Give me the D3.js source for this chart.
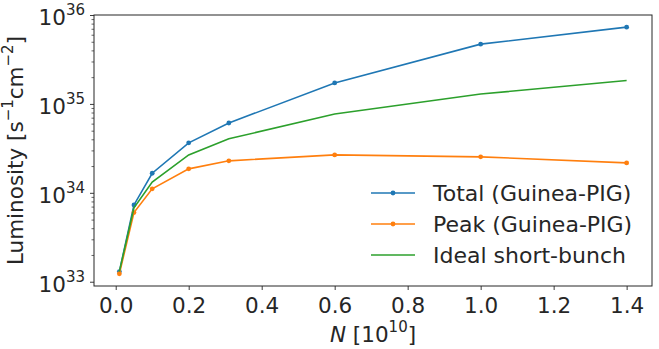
<!DOCTYPE html>
<meta charset="utf-8">
<style>
body { margin: 0; background: #fff; }
svg text { font-family: "DejaVu Sans", sans-serif; fill: #262626; }
</style>
<body>
<svg id="chart" width="659" height="349"></svg>
<script src="https://cdn.jsdelivr.net/npm/d3@7"></script>
<script>

// bunch population N [1e10]
var nValues = [0.01, 0.05, 0.1, 0.2, 0.31, 0.6, 1.0, 1.4];
var totalLumi = [1.3e33, 7.3e33, 1.66e34, 3.65e34, 6.1e34, 1.72e35, 4.7e35, 7.3e35];
var peakLumi = [1.23e33, 6.0e33, 1.11e34, 1.86e34, 2.29e34, 2.67e34, 2.54e34, 2.17e34];
var idealLumi = [1.3e33, 6.8e33, 1.32e34, 2.67e34, 4.05e34, 7.7e34, 1.29e35, 1.83e35];

var xTicks = [0.0, 0.2, 0.4, 0.6, 0.8, 1.0, 1.2, 1.4];
var yExponents = [33, 34, 35, 36];

var series = [
  {name: "Total (Guinea-PIG)", values: totalLumi, color: "#1f77b4", dots: true},
  {name: "Peak (Guinea-PIG)", values: peakLumi, color: "#ff7f0e", dots: true},
  {name: "Ideal short-bunch", values: idealLumi, color: "#2ca02c", dots: false}
];

var margin = {left: 94, right: 7, top: 15, bottom: 63};
var width = 659 - margin.left - margin.right,
    height = 349 - margin.top - margin.bottom;

var svg = d3.select("#chart");
var g = svg.append("g").attr("transform", "translate(" + margin.left + "," + margin.top + ")");

var pad = (1.4 - 0.01) * 0.05;
var x = d3.scaleLinear().domain([0.01 - pad, 1.4 + pad]).range([0, width]);
var y = d3.scaleLog().domain([Math.pow(10, 32.952), 1e36]).range([height, 0]);

var fs = 21.5, sup = 15;

// x axis
var xAxis = g.append("g").attr("transform", "translate(0," + height + ")")
  .call(d3.axisBottom(x).tickValues(xTicks).tickFormat(d3.format(".1f")).tickSizeInner(4).tickSizeOuter(0).tickPadding(7.5));
xAxis.select(".domain").remove();
xAxis.selectAll("line").attr("stroke", "#262626").attr("stroke-width", 0.9);
xAxis.selectAll("text").style("font-size", fs + "px").attr("fill", "#262626");

// y axis: major + minor ticks
var majors = yExponents.map(function(e) { return Math.pow(10, e); });
var minors = [];
yExponents.forEach(function(e) {
  for (var k = 2; k <= 9; k++) {
    var v = k * Math.pow(10, e);
    if (v <= 1e36 && v >= y.domain()[0]) minors.push(v);
  }
});
var yAxis = g.append("g")
  .call(d3.axisLeft(y).tickValues(majors).tickFormat("").tickSizeInner(4).tickSizeOuter(0));
yAxis.select(".domain").remove();
yAxis.selectAll("line").attr("stroke", "#262626").attr("stroke-width", 0.9);

var yMinor = g.append("g")
  .call(d3.axisLeft(y).tickValues(minors).tickFormat("").tickSizeInner(2.5).tickSizeOuter(0));
yMinor.select(".domain").remove();
yMinor.selectAll("line").attr("stroke", "#262626").attr("stroke-width", 0.7);

// y tick labels with superscript exponent
yExponents.forEach(function(e) {
  var t = g.append("text")
    .attr("x", -9)
    .attr("y", y(Math.pow(10, e)) + 10)
    .attr("text-anchor", "end")
    .style("font-size", fs + "px");
  t.append("tspan").text("10");
  t.append("tspan").attr("dy", -10).style("font-size", sup + "px").text(e);
});

// frame
g.append("rect").attr("width", width).attr("height", height)
  .attr("fill", "none").attr("stroke", "#262626").attr("stroke-width", 1);

// lines
var line = d3.line()
  .x(function(d, i) { return x(nValues[i]); })
  .y(function(d) { return y(d); });

series.forEach(function(s) {
  g.append("path").datum(s.values)
    .attr("fill", "none").attr("stroke", s.color).attr("stroke-width", 1.6)
    .attr("d", line);
  if (s.dots) {
    g.selectAll(null).data(s.values).enter().append("circle")
      .attr("cx", function(d, i) { return x(nValues[i]); })
      .attr("cy", function(d) { return y(d); })
      .attr("r", 2.4)
      .attr("fill", s.color);
  }
});

// legend
var legend = g.append("g").attr("transform", "translate(" + (371 - margin.left) + "," + (193 - margin.top) + ")");
series.forEach(function(s, i) {
  var row = legend.append("g").attr("transform", "translate(0," + (i * 31) + ")");
  row.append("line").attr("x1", 0).attr("x2", 44).attr("y1", 0).attr("y2", 0)
    .attr("stroke", s.color).attr("stroke-width", 1.6);
  if (s.dots) row.append("circle").attr("cx", 22).attr("cy", 0).attr("r", 2.4).attr("fill", s.color);
  row.append("text").attr("x", 62).attr("y", 8).style("font-size", "22px").text(s.name);
});

// axis labels
var xl = svg.append("text")
  .attr("x", margin.left + width / 2)
  .attr("y", 342)
  .attr("text-anchor", "middle")
  .style("font-size", fs + "px");
xl.append("tspan").style("font-style", "italic").text("N");
xl.append("tspan").text(" [10");
xl.append("tspan").attr("dy", -10).style("font-size", sup + "px").text("10");
xl.append("tspan").attr("dy", 10).text("]");

var yl = svg.append("text")
  .attr("transform", "translate(23," + (margin.top + height / 2) + ") rotate(-90)")
  .attr("text-anchor", "middle")
  .style("font-size", fs + "px");
yl.append("tspan").text("Luminosity [s");
yl.append("tspan").attr("dy", -10).style("font-size", sup + "px").text("\u22121");
yl.append("tspan").attr("dy", 10).text("cm");
yl.append("tspan").attr("dy", -10).style("font-size", sup + "px").text("\u22122");
yl.append("tspan").attr("dy", 10).text("]");

</script>
</body>
